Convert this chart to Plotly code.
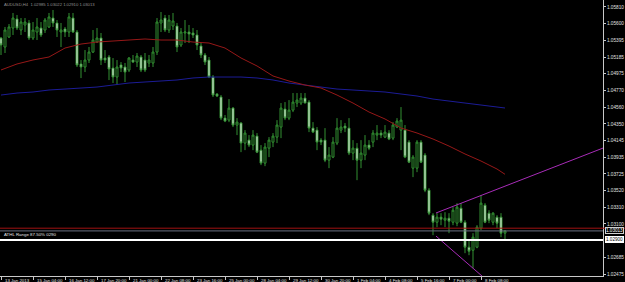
import plotly.graph_objects as go

bars = list(range(127))
opens = [1.05422,1.05310,1.05435,1.05547,1.05660,1.05522,1.05585,1.05610,1.05422,1.05497,
         1.05547,1.05522,1.05560,1.05672,1.05610,1.05497,1.05535,1.05497,1.05672,1.05497,
         1.05097,1.05060,1.05147,1.05247,1.05372,1.05422,1.05172,1.05185,1.05047,1.04935,
         1.05085,1.05060,1.05022,1.05147,1.05122,1.05185,1.05147,1.05110,1.05110,1.05247,
         1.05610,1.05672,1.05522,1.05572,1.05572,1.05335,1.05485,1.05497,1.05485,1.05460,
         1.05322,1.05210,1.05147,1.04935,1.04722,1.04685,1.04422,1.04397,1.04547,1.04335,
         1.04360,1.04110,1.04147,1.04085,1.04197,1.04022,1.03860,1.04047,1.04122,1.04185,
         1.04310,1.04535,1.04422,1.04522,1.04610,1.04610,1.04672,1.04622,1.04297,1.04272,
         1.04147,1.04147,1.03897,1.03935,1.04110,1.04272,1.04322,1.04297,1.03985,1.04047,
         1.03897,1.03960,1.04085,1.04122,1.04210,1.04235,1.04185,1.04235,1.04172,1.04310,
         1.04272,1.04272,1.04122,1.03797,1.03797,1.04122,1.03960,1.03522,1.03210,1.03122,
         1.03185,1.03147,1.03172,1.03122,1.03110,1.03297,1.03122,1.02810,1.02772,1.02810,
         1.03047,1.03335,1.03235,1.03122,1.03185,1.03185,1.02985]
highs = [1.05435,1.05560,1.05597,1.05735,1.05710,1.05672,1.05672,1.05647,1.05622,1.05672,
         1.05622,1.05672,1.05735,1.05772,1.05647,1.05610,1.05560,1.05735,1.05735,1.05522,
         1.05147,1.05272,1.05310,1.05522,1.05547,1.05485,1.05272,1.05210,1.05172,1.05147,
         1.05122,1.05110,1.05185,1.05210,1.05235,1.05210,1.05235,1.05210,1.05310,1.05672,
         1.05747,1.05710,1.05710,1.05735,1.05610,1.05547,1.05647,1.05585,1.05547,1.05522,
         1.05360,1.05235,1.05185,1.04960,1.04735,1.04710,1.04460,1.04660,1.04560,1.04422,
         1.04372,1.04272,1.04210,1.04272,1.04235,1.04085,1.04110,1.04185,1.04235,1.04397,
         1.04610,1.04622,1.04647,1.04735,1.04735,1.04735,1.04735,1.04647,1.04372,1.04310,
         1.04172,1.04297,1.04060,1.04185,1.04422,1.04397,1.04360,1.04422,1.04147,1.04110,
         1.04147,1.04210,1.04147,1.04272,1.04335,1.04272,1.04335,1.04272,1.04372,1.04422,
         1.04560,1.04335,1.04147,1.03960,1.04147,1.04147,1.03985,1.03547,1.03235,1.03235,
         1.03235,1.03247,1.03235,1.03310,1.03360,1.03360,1.03147,1.02897,1.02985,1.03085,
         1.03460,1.03360,1.03272,1.03247,1.03210,1.03235,1.03022]
lows = [1.05210,1.05235,1.05422,1.05460,1.05522,1.05460,1.05497,1.05397,1.05397,1.05397,
        1.05435,1.05485,1.05547,1.05560,1.05435,1.05310,1.05435,1.05435,1.05485,1.05060,
        1.04922,1.04997,1.05110,1.05235,1.05360,1.05085,1.05110,1.04897,1.04860,1.04835,
        1.04997,1.04872,1.04997,1.05110,1.05060,1.04997,1.04997,1.05060,1.05060,1.05210,
        1.05497,1.05497,1.05485,1.05522,1.05247,1.05310,1.05360,1.05360,1.05422,1.05272,
        1.05172,1.05085,1.04922,1.04685,1.04685,1.04397,1.04372,1.04372,1.04310,1.04210,
        1.03997,1.04022,1.04060,1.04022,1.03985,1.03835,1.03822,1.03935,1.04060,1.04110,
        1.04172,1.04397,1.04397,1.04497,1.04560,1.04585,1.04610,1.04247,1.04235,1.04022,
        1.04085,1.03872,1.03797,1.03922,1.04085,1.04235,1.04247,1.03960,1.03897,1.03647,
        1.03797,1.03897,1.04022,1.04060,1.04147,1.04172,1.04172,1.04147,1.04147,1.04297,
        1.04022,1.03922,1.03860,1.03685,1.03747,1.03860,1.03497,1.03210,1.02960,1.03060,
        1.03085,1.03060,1.02985,1.03085,1.03072,1.03110,1.02735,1.02710,1.02547,1.02797,
        1.03022,1.03110,1.03110,1.03085,1.03047,1.02935,1.02910]
closes = [1.05335,1.05522,1.05560,1.05672,1.05547,1.05622,1.05622,1.05422,1.05522,1.05560,
          1.05460,1.05647,1.05685,1.05610,1.05522,1.05522,1.05497,1.05685,1.05497,1.05085,
          1.05060,1.05147,1.05247,1.05397,1.05422,1.05147,1.05147,1.05035,1.04935,1.05060,
          1.05047,1.04997,1.05172,1.05122,1.05197,1.05022,1.05022,1.05147,1.05247,1.05622,
          1.05647,1.05522,1.05647,1.05635,1.05310,1.05497,1.05497,1.05472,1.05460,1.05335,
          1.05210,1.05122,1.04935,1.04710,1.04697,1.04422,1.04385,1.04547,1.04335,1.04372,
          1.04110,1.04235,1.04085,1.04210,1.03997,1.03860,1.04060,1.04147,1.04197,1.04335,
          1.04547,1.04422,1.04522,1.04622,1.04647,1.04672,1.04610,1.04297,1.04247,1.04122,
          1.04122,1.03897,1.03960,1.04122,1.04297,1.04310,1.04297,1.03985,1.04047,1.03897,
          1.03985,1.04085,1.04047,1.04235,1.04235,1.04210,1.04247,1.04160,1.04335,1.04385,
          1.04397,1.03935,1.03872,1.03935,1.04122,1.03872,1.03522,1.03235,1.03122,1.03185,
          1.03160,1.03172,1.03135,1.03272,1.03310,1.03122,1.02810,1.02760,1.02935,1.03060,
          1.03360,1.03122,1.03147,1.03235,1.03110,1.02985,1.03013]

ma_bars = [0,4,8,12,16,20,24,28,32,36,40,44,48,52,56,60,64,68,72,76,80,84,88,92,96,100,104,108,112,116,120,124,126]
ma_red = [1.05023,1.05098,1.05148,1.05185,1.05297,1.05347,1.05372,1.05385,1.05397,1.05410,1.05397,
          1.05397,1.05372,1.05360,1.05297,1.05173,1.05073,1.04948,1.04885,1.04835,1.04798,1.04710,
          1.04610,1.04498,1.04411,1.04298,1.04236,1.04161,1.04073,1.03974,1.03886,1.03786,1.03720]
ma_blue = [1.04710,1.04735,1.04748,1.04773,1.04785,1.04798,1.04810,1.04835,1.04860,1.04873,1.04885,
           1.04898,1.04923,1.04935,1.04935,1.04935,1.04923,1.04898,1.04860,1.04835,1.04810,1.04785,
           1.04773,1.04760,1.04748,1.04723,1.04698,1.04660,1.04635,1.04610,1.04586,1.04561,1.04548]

upper_trend_x = [108.75, 152]
upper_trend_y = [1.03237, 1.04077]
lower_trend_x = [108.75, 125]
lower_trend_y = [1.02949, 1.02243]

level_red = 1.03047
level_bid = 1.03013
level_white = 1.02900

y_ticks = [1.05810,1.05600,1.05395,1.05185,1.04975,1.04770,1.04560,1.04350,1.04145,
           1.03935,1.03725,1.03520,1.03310,1.03100,1.02685,1.02475]
x_tick_bars = [0,8,16,24,32,40,48,56,64,72,80,88,96,104,112,120]
x_tick_labels = ["13 Jan 2013","15 Jan 04:00","16 Jan 12:00","17 Jan 20:00","21 Jan 00:00",
                 "22 Jan 08:00","23 Jan 16:00","25 Jan 00:00","28 Jan 04:00","29 Jan 12:00",
                 "30 Jan 20:00","1 Feb 04:00","4 Feb 08:00","5 Feb 16:00","7 Feb 00:00","8 Feb 08:00"]

GREEN = "#329032"
FONT = "Liberation Sans"

fig = go.Figure()
fig.add_trace(go.Scatter(x=ma_bars, y=ma_blue, mode="lines", line=dict(color="#1c1c96", width=1), hoverinfo="skip"))
fig.add_trace(go.Scatter(x=ma_bars, y=ma_red, mode="lines", line=dict(color="#961818", width=1), hoverinfo="skip"))
fig.add_trace(go.Candlestick(
    x=bars, open=opens, high=highs, low=lows, close=closes,
    increasing=dict(line=dict(color=GREEN, width=1), fillcolor="black"),
    decreasing=dict(line=dict(color=GREEN, width=1), fillcolor="white"),
    whiskerwidth=0,
))
fig.add_trace(go.Scatter(x=upper_trend_x, y=upper_trend_y, mode="lines", line=dict(color="#a82cb8", width=1), hoverinfo="skip"))
fig.add_trace(go.Scatter(x=lower_trend_x, y=lower_trend_y, mode="lines", line=dict(color="#a82cb8", width=1), hoverinfo="skip"))

shapes = [
    dict(type="line", xref="paper", yref="y", x0=0, x1=1.04, y0=level_red, y1=level_red,
         line=dict(color="#a01212", width=1), layer="above"),
    dict(type="line", xref="paper", yref="y", x0=0, x1=1, y0=level_bid, y1=level_bid,
         line=dict(color="#6a7080", width=1), layer="above"),
    dict(type="line", xref="paper", yref="y", x0=0, x1=1, y0=level_white, y1=level_white,
         line=dict(color="white", width=2), layer="above"),
]

annotations = []
for b, t in zip(x_tick_bars, x_tick_labels):
    annotations.append(dict(x=b + 0.4, y=0, xref="x", yref="paper", text=t, showarrow=False,
                            xanchor="left", yanchor="top", yshift=0,
                            font=dict(family=FONT, size=4.4, color="#e0e0e0")))
annotations.append(dict(x=0.004, y=1, xref="paper", yref="paper",
                        text="AUDUSD,H4  1.02985 1.03022 1.02910 1.03013", showarrow=False,
                        xanchor="left", yanchor="top",
                        font=dict(family=FONT, size=4.2, color="#909090")))
annotations.append(dict(x=0.004, y=level_white, xref="paper", yref="y", yshift=1,
                        text="ATHL Range 87.50% 0290", showarrow=False,
                        xanchor="left", yanchor="bottom",
                        font=dict(family=FONT, size=4.4, color="#e0e0e0")))
annotations.append(dict(x=1.004, y=level_bid, xref="paper", yref="y", text="1.03013", showarrow=False,
                        xanchor="left", yanchor="middle", bgcolor="black", bordercolor="#d0d0d0",
                        borderwidth=1, borderpad=0,
                        font=dict(family=FONT, size=4.6, color="white")))
annotations.append(dict(x=1.004, y=level_white, xref="paper", yref="y", text="1.02900", showarrow=False,
                        xanchor="left", yanchor="middle", bgcolor="white", bordercolor="white",
                        borderwidth=1, borderpad=0,
                        font=dict(family=FONT, size=4.6, color="black")))

fig.update_layout(
    width=625, height=282,
    margin=dict(l=0, r=22, t=0, b=6, autoexpand=False),
    paper_bgcolor="black", plot_bgcolor="black",
    showlegend=False,
    shapes=shapes, annotations=annotations,
    xaxis=dict(range=[-0.25, 150.5], showgrid=False, zeroline=False, showline=True,
               linecolor="#c8c8c8", linewidth=1, ticks="outside", ticklen=3, tickcolor="#c8c8c8",
               tickvals=x_tick_bars, showticklabels=False, rangeslider=dict(visible=False),
               automargin=False, fixedrange=True),
    yaxis=dict(range=[1.02450, 1.05897], side="right", showgrid=False, zeroline=False,
               showline=True, linecolor="#c8c8c8", linewidth=1, ticks="outside", ticklen=2,
               tickcolor="#c8c8c8", tickvals=y_ticks, ticktext=[f"{v:.5f}" for v in y_ticks],
               tickfont=dict(family=FONT, size=4.7, color="#e0e0e0"), automargin=False,
               fixedrange=True),
)

fig.write_html("out.html")
